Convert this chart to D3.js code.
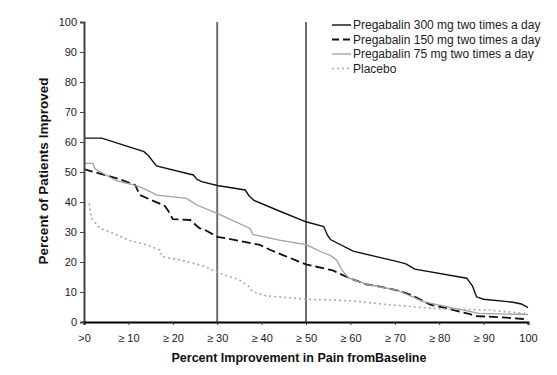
<!DOCTYPE html>
<html>
<head>
<meta charset="utf-8">
<script src="https://cdn.jsdelivr.net/npm/d3@7"></script>
<style>
  body { margin: 0; background: #fff; }
  svg { font-family: "Liberation Sans", Arial, sans-serif; }
</style>
</head>
<body>
<div id="chart"></div>
<script>
// ---- data ----
const seriesNames = [
    'Pregabalin 300 mg two times a day',
    'Pregabalin 150 mg two times a day',
    'Pregabalin 75 mg two times a day',
    'Placebo'
];

const xTickValues = [0, 10, 20, 30, 40, 50, 60, 70, 80, 90, 100];
const xTickLabels = ['>0', '≥ 10', '≥ 20', '≥ 30', '≥ 40', '≥ 50', '≥ 60', '≥ 70', '≥ 80', '≥ 90', '100'];
const yTickValues = [0, 10, 20, 30, 40, 50, 60, 70, 80, 90, 100];
const refLines = [30, 50];

// [percent improvement, percent of patients]
const pts300 = [[0, 61.3], [4, 61.3], [13.5, 56.8], [14.5, 55.5], [16.3, 52], [24.6, 49], [25.5, 47.5],
    [26.5, 46.8], [30, 45.5], [36.3, 44], [37.2, 42], [38.3, 40.5], [44.8, 36.5], [50, 33.4], [54, 31.8],
    [54.8, 29], [55.5, 27.5], [60.6, 23.6], [70.4, 20.2], [72.5, 19.4], [74.5, 17.6], [86.2, 14.6],
    [87.5, 12], [88.4, 8.4], [90, 7.6], [96.6, 6.6], [98.5, 6], [100, 4.8]];

const pts150 = [[0, 51], [1.3, 50.4], [8, 47.6], [11.5, 45.7], [12.6, 42.3], [18.2, 38.7], [19, 37],
    [20, 34.3], [23.9, 34], [26, 31.3], [27.5, 30.5], [30, 28.4], [32, 27.9], [39.6, 25.7], [42, 24],
    [44.8, 22.3], [50, 19.2], [56, 17.2], [60, 14.5], [63.7, 12.5], [66.7, 11.8], [71, 10.4], [74, 8.8],
    [78, 5.8], [82.4, 4.3], [87, 2.6], [88, 2], [93.7, 1.6], [100, 0.9]];

const pts75 = [[0, 52.9], [2, 52.9], [2.5, 51], [7.4, 47], [10.4, 46], [13.3, 44.6], [16.4, 42.3],
    [23.1, 41.2], [25.4, 39], [30, 36.2], [37.4, 31.2], [38, 29.2], [44, 27.3], [50, 25.8], [54, 23],
    [55.5, 22.2], [57, 20.5], [58, 17.5], [59.5, 14.8], [63.7, 12.5], [70.4, 10.7], [76.4, 6.8],
    [82.4, 4.9], [89, 2.9], [100, 2.5]];

const ptsPlacebo = [[1.2, 39.5], [1.4, 37], [1.7, 34.6], [3.6, 31.2], [6.6, 29.6], [10, 27.3],
    [14.1, 25.7], [17.1, 24], [17.6, 21.8], [21.6, 20.7], [26.9, 18.7], [30, 16.6], [35, 14], [37, 12],
    [38, 10.1], [41, 8.7], [50, 7.6], [60, 7.1], [69, 5.7], [80, 4.4], [91, 4], [100, 2.8]];

// ---- chart ----
const W = 557, H = 375;
const margin = { top: 22, right: 29, bottom: 53, left: 84 };
const width = W - margin.left - margin.right;
const height = H - margin.top - margin.bottom;

const styles = [
    { stroke: '#111', width: 1.4, dash: null },
    { stroke: '#111', width: 1.8, dash: '9,4' },
    { stroke: '#a0a0a0', width: 1.3, dash: null },
    { stroke: '#a8a8a8', width: 1.6, dash: '2,3' }
];
const allSeries = [pts300, pts150, pts75, ptsPlacebo];

const svg = d3.select('#chart').append('svg')
    .attr('width', W)
    .attr('height', H);

const plot = svg.append('g')
    .attr('transform', `translate(${margin.left}, ${margin.top})`);

const x = d3.scaleLinear().domain([0, 100]).range([0, width]);
const y = d3.scaleLinear().domain([0, 100]).range([height, 0]);

// reference lines at >=30 and >=50
plot.selectAll('.ref')
    .data(refLines)
    .enter()
    .append('line')
    .attr('class', 'ref')
    .attr('x1', d => x(d))
    .attr('x2', d => x(d))
    .attr('y1', y(100))
    .attr('y2', y(0))
    .attr('stroke', '#707070')
    .attr('stroke-width', 2);

const line = d3.line()
    .x(d => x(d[0]))
    .y(d => y(d[1]));

plot.selectAll('.series')
    .data(allSeries)
    .enter()
    .append('path')
    .attr('class', 'series')
    .attr('d', d => line(d))
    .attr('fill', 'none')
    .attr('stroke', (d, i) => styles[i].stroke)
    .attr('stroke-width', (d, i) => styles[i].width)
    .attr('stroke-dasharray', (d, i) => styles[i].dash);

// y axis
const yAxis = d3.axisLeft(y).tickValues(yTickValues).tickSize(4).tickPadding(3);
plot.append('g')
    .attr('class', 'axis y')
    .call(yAxis)
    .call(g => g.select('.domain').attr('stroke', '#444').attr('stroke-width', 2))
    .call(g => g.selectAll('.tick line').attr('stroke', '#444'))
    .call(g => g.selectAll('text').attr('font-size', 11).attr('fill', '#222'));

// x axis
const xAxis = d3.axisBottom(x)
    .tickValues(xTickValues)
    .tickFormat((d, i) => xTickLabels[i])
    .tickSize(3)
    .tickPadding(9);
plot.append('g')
    .attr('class', 'axis x')
    .attr('transform', `translate(0, ${height})`)
    .call(xAxis)
    .call(g => g.select('.domain').attr('stroke', '#000').attr('stroke-width', 2))
    .call(g => g.selectAll('.tick line').attr('stroke', '#333'))
    .call(g => g.selectAll('text').attr('font-size', 11).attr('fill', '#222'));

// axis titles
svg.append('text')
    .attr('x', 299)
    .attr('y', 362)
    .attr('text-anchor', 'middle')
    .attr('font-size', 12.5)
    .attr('font-weight', 'bold')
    .attr('fill', '#111')
    .text('Percent Improvement in Pain fromBaseline');

svg.append('text')
    .attr('transform', 'translate(48, 171) rotate(-90)')
    .attr('text-anchor', 'middle')
    .attr('font-size', 13.5)
    .attr('font-weight', 'bold')
    .attr('fill', '#111')
    .text('Percent of Patients Improved');

// legend
const legend = svg.append('g')
    .attr('transform', 'translate(332, 25)');

const item = legend.selectAll('.item')
    .data(seriesNames)
    .enter()
    .append('g')
    .attr('class', 'item')
    .attr('transform', (d, i) => `translate(0, ${i * 14.5})`);

item.append('line')
    .attr('x1', 0)
    .attr('x2', 19)
    .attr('stroke', (d, i) => styles[i].stroke)
    .attr('stroke-width', (d, i) => styles[i].width)
    .attr('stroke-dasharray', (d, i) => i === 1 ? '7,4' : styles[i].dash);

item.append('text')
    .attr('x', 21)
    .attr('dy', '0.35em')
    .attr('font-size', 12)
    .attr('fill', '#222')
    .text(d => d);
</script>
</body>
</html>
